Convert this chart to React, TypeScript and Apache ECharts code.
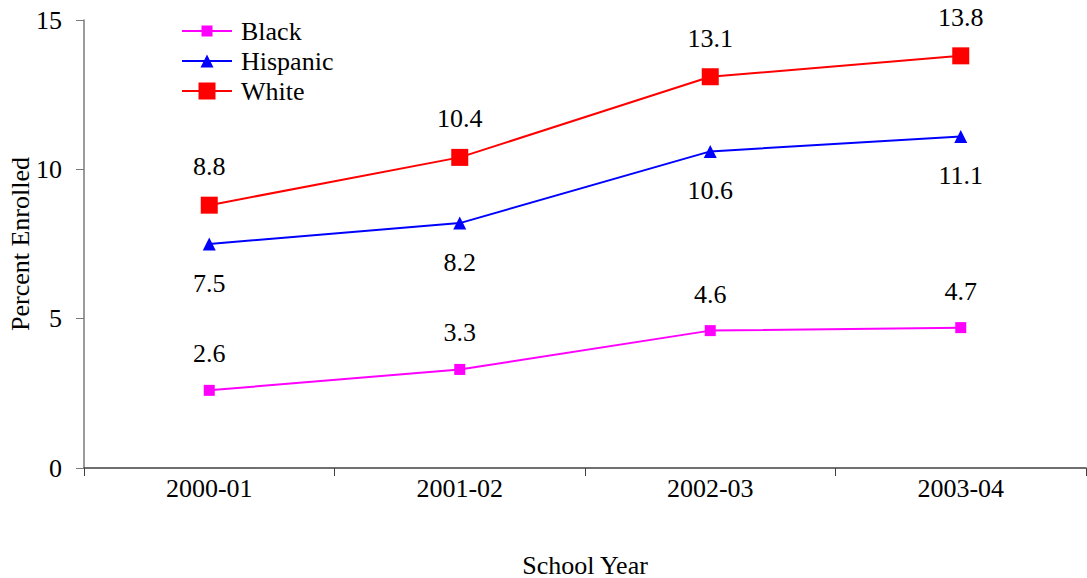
import React, { useEffect, useRef } from "react";
import * as echarts from "echarts";

const categories = ["2000-01", "2001-02", "2002-03", "2003-04"];
const blackValues = [2.6, 3.3, 4.6, 4.7];
const hispanicValues = [7.5, 8.2, 10.6, 11.1];
const whiteValues = [8.8, 10.4, 13.1, 13.8];
const yTicks = [0, 5, 10, 15];

const FONT = "Liberation Serif";
const FS = 26;

// legend icons: a line across the 50x17 box with the series marker in the middle
const BOX = "M0,0 L0,0 Z M0,17 L0,17 Z M0,7.5 L50,7.5 L50,9.5 L0,9.5 Z ";
const ICON_BLACK = "path://" + BOX + "M19.5,3 L30.5,3 L30.5,14 L19.5,14 Z";
const ICON_HISP = "path://" + BOX + "M25,2 L31.5,15 L18.5,15 Z";
const ICON_WHITE = "path://" + BOX + "M16.5,0 L33.5,0 L33.5,17 L16.5,17 Z";

export default function App() {
  const ref = useRef<HTMLDivElement>(null);
  useEffect(() => {
    if (!ref.current) return;
    const chart = echarts.init(ref.current, undefined, { renderer: "svg" });
    const labelStyle = {
      show: true,
      fontFamily: FONT,
      fontSize: FS,
      color: "#000",
      formatter: (p: any) => p.value.toFixed(1),
    };
    chart.setOption({
      animation: false,
      backgroundColor: "#fff",
      textStyle: { fontFamily: FONT, fontSize: FS },
      grid: {
        left: 84,
        right: 1,
        top: 20,
        bottom: 110,
        containLabel: false,
        outerBoundsMode: "none",
      },
      legend: {
        orient: "vertical",
        left: 182,
        top: 18,
        padding: 0,
        itemWidth: 50,
        itemHeight: 17,
        itemGap: 4,
        textStyle: { fontFamily: FONT, fontSize: FS, color: "#000", padding: [0, 0, 0, 4] },
        data: [
          { name: "Black", icon: ICON_BLACK },
          { name: "Hispanic", icon: ICON_HISP },
          { name: "White", icon: ICON_WHITE },
        ],
      },
      xAxis: {
        type: "category",
        data: categories,
        boundaryGap: true,
        name: "School Year",
        nameLocation: "middle",
        nameGap: 84,
        nameMoveOverlap: false,
        nameTextStyle: { fontFamily: FONT, fontSize: FS, color: "#000", verticalAlign: "top" },
        axisLine: { lineStyle: { color: "#404040", width: 1.5 } },
        axisTick: { show: true, length: 8, alignWithLabel: false, lineStyle: { color: "#404040" } },
        axisLabel: { fontFamily: FONT, fontSize: FS, color: "#000", margin: 7 },
        splitLine: { show: false },
      },
      yAxis: {
        type: "value",
        min: 0,
        max: 15,
        interval: 5,
        name: "Percent Enrolled",
        nameLocation: "middle",
        nameGap: 51,
        nameMoveOverlap: false,
        nameTextStyle: { fontFamily: FONT, fontSize: FS, color: "#000" },
        axisLine: { show: true, lineStyle: { color: "#7a7a7a", width: 1.5 } },
        axisTick: { show: true, length: 8, lineStyle: { color: "#7a7a7a" } },
        axisLabel: {
          fontFamily: FONT,
          fontSize: FS,
          color: "#000",
          margin: 22,
          formatter: (v: number) => (yTicks.includes(v) ? String(v) : ""),
        },
        splitLine: { show: false },
      },
      series: [
        {
          name: "Black",
          type: "line",
          data: blackValues,
          color: "#FF00FF",
          lineStyle: { color: "#FF00FF", width: 2 },
          symbol: "rect",
          symbolSize: 11,
          itemStyle: { color: "#FF00FF" },
          label: { ...labelStyle, position: "top", distance: 18 },
        },
        {
          name: "Hispanic",
          type: "line",
          data: hispanicValues,
          color: "#0000FF",
          lineStyle: { color: "#0000FF", width: 2 },
          symbol: "triangle",
          symbolSize: 13,
          itemStyle: { color: "#0000FF" },
          label: { ...labelStyle, position: "bottom", distance: 20 },
        },
        {
          name: "White",
          type: "line",
          data: whiteValues,
          color: "#FF0000",
          lineStyle: { color: "#FF0000", width: 2 },
          symbol: "rect",
          symbolSize: 17,
          itemStyle: { color: "#FF0000" },
          label: { ...labelStyle, position: "top", distance: 17 },
        },
      ],
    });
    return () => chart.dispose();
  }, []);
  return (
    <div
      ref={ref}
      style={{ position: "fixed", left: 0, top: 0, width: 1087, height: 578 }}
    />
  );
}
